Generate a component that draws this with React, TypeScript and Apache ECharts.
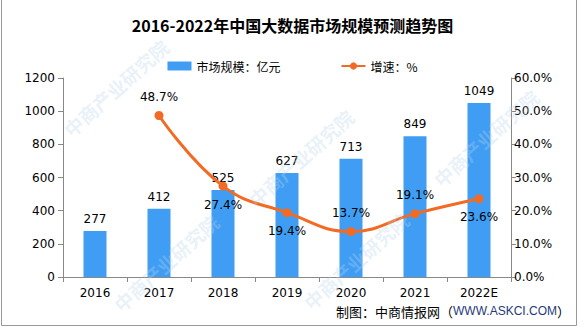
import React, { useEffect, useRef } from "react";
import * as echarts from "echarts";

const categories = ["2016", "2017", "2018", "2019", "2020", "2021", "2022E"];
const marketSize = [277, 412, 525, 627, 713, 849, 1049];
const growth = [null, 48.7, 27.4, 19.4, 13.7, 19.1, 23.6];
const growthLabelPos = ["top", "top", "bottom", "bottom", "top", "top", "bottom"];
const watermarkSpots = [
  [60, 125], [245, 195], [430, 175], [110, 300], [300, 298],
];

export default function App() {
  const ref = useRef<HTMLDivElement>(null);
  useEffect(() => {
    const chart = echarts.init(ref.current!, null, { renderer: "svg" });
    const wm = watermarkSpots.map(([x, y]) => ({
      type: "text",
      x,
      y,
      rotation: Math.PI / 4.3,
      silent: true,
      z: 100,
      style: {
        text: "中商产业研究院",
        fill: "rgba(185,212,236,0.32)",
        font: "bold 19px 'Noto Sans CJK SC'",
      },
    }));
    chart.setOption({
      animation: false,
      backgroundColor: "#ffffff",
      textStyle: { fontFamily: "'DejaVu Sans', 'Noto Sans CJK SC', sans-serif" },
      title: {
        text: "2016-2022年中国大数据市场规模预测趋势图",
        left: "center",
        top: 12,
        textStyle: {
          fontSize: 16,
          fontWeight: "bold",
          color: "#000",
          fontFamily: "'Noto Sans CJK SC', sans-serif",
        },
      },
      legend: {
        top: 55,
        left: "center",
        itemGap: 60,
        itemWidth: 24,
        itemHeight: 9,
        textStyle: { fontSize: 12, color: "#000", fontFamily: "'Noto Sans CJK SC', sans-serif" },
        data: [
          { name: "市场规模：亿元", icon: "rect" },
          { name: "增速：%" },
        ],
      },
      grid: { left: 63, right: 74, top: 78, bottom: 50 },
      xAxis: {
        type: "category",
        data: categories,
        axisLine: { lineStyle: { color: "#888" } },
        axisTick: { show: true, alignWithLabel: false, length: 5, lineStyle: { color: "#888" } },
        axisLabel: { color: "#000", fontSize: 12, margin: 10 },
      },
      yAxis: [
        {
          type: "value",
          min: 0,
          max: 1200,
          interval: 200,
          splitLine: { show: false },
          axisLine: { show: true, lineStyle: { color: "#888" } },
          axisTick: { show: true, length: 5, lineStyle: { color: "#888" } },
          axisLabel: { color: "#000", fontSize: 12, margin: 8, formatter: (v: number) => String(v) },
        },
        {
          type: "value",
          min: 0,
          max: 60,
          interval: 10,
          position: "right",
          splitLine: { show: false },
          axisLine: { show: true, lineStyle: { color: "#888" } },
          axisTick: { show: true, length: 5, lineStyle: { color: "#888" } },
          axisLabel: {
            color: "#000",
            fontSize: 12,
            margin: 3,
            formatter: (v: number) => v.toFixed(1) + "%",
          },
        },
      ],
      series: [
        {
          name: "市场规模：亿元",
          type: "bar",
          data: marketSize,
          barWidth: 23,
          itemStyle: { color: "#3F9EF4" },
          label: { show: true, position: "top", color: "#000", fontSize: 12, distance: 6 },
        },
        {
          name: "增速：%",
          type: "line",
          yAxisIndex: 1,
          data: growth.map((v, i) => ({
            value: v,
            label: { position: growthLabelPos[i] },
          })),
          smooth: 0.45,
          connectNulls: false,
          symbol: "circle",
          symbolSize: 9,
          lineStyle: { color: "#F26B24", width: 3 },
          itemStyle: { color: "#F26B24" },
          label: {
            show: true,
            color: "#000",
            fontSize: 12,
            distance: 8,
            formatter: (p: any) => (p.value == null ? "" : p.value.toFixed(1) + "%"),
          },
          z: 5,
        },
      ],
      graphic: [
        ...wm,
        {
          type: "line",
          silent: true,
          shape: { x1: 1.5, y1: 0, x2: 1.5, y2: 325.5 },
          style: { stroke: "#999", lineWidth: 1 },
        },
        {
          type: "line",
          silent: true,
          shape: { x1: 576.5, y1: 0, x2: 576.5, y2: 325.5 },
          style: { stroke: "#999", lineWidth: 1 },
        },
        {
          type: "line",
          silent: true,
          shape: { x1: 1.5, y1: 325.5, x2: 576.5, y2: 325.5 },
          style: { stroke: "#999", lineWidth: 1 },
        },
        {
          type: "text",
          x: 570,
          y: 311,
          style: {
            align: "right",
            verticalAlign: "middle",
            rich: {
              a: { fontSize: 13, fill: "#000", fontFamily: "'Noto Sans CJK SC', sans-serif" },
              b: { fontSize: 12, fill: "#1F3A7A", fontFamily: "'Liberation Sans', sans-serif" },
            },
            text: "{a|制图：中商情报网（}{b|WWW.ASKCI.COM}{a|）}",
          },
        },
      ],
    });
    return () => chart.dispose();
  }, []);
  return (
    <div
      ref={ref}
      style={{ position: "fixed", left: 0, top: 0, width: 585, height: 327 }}
    />
  );
}
